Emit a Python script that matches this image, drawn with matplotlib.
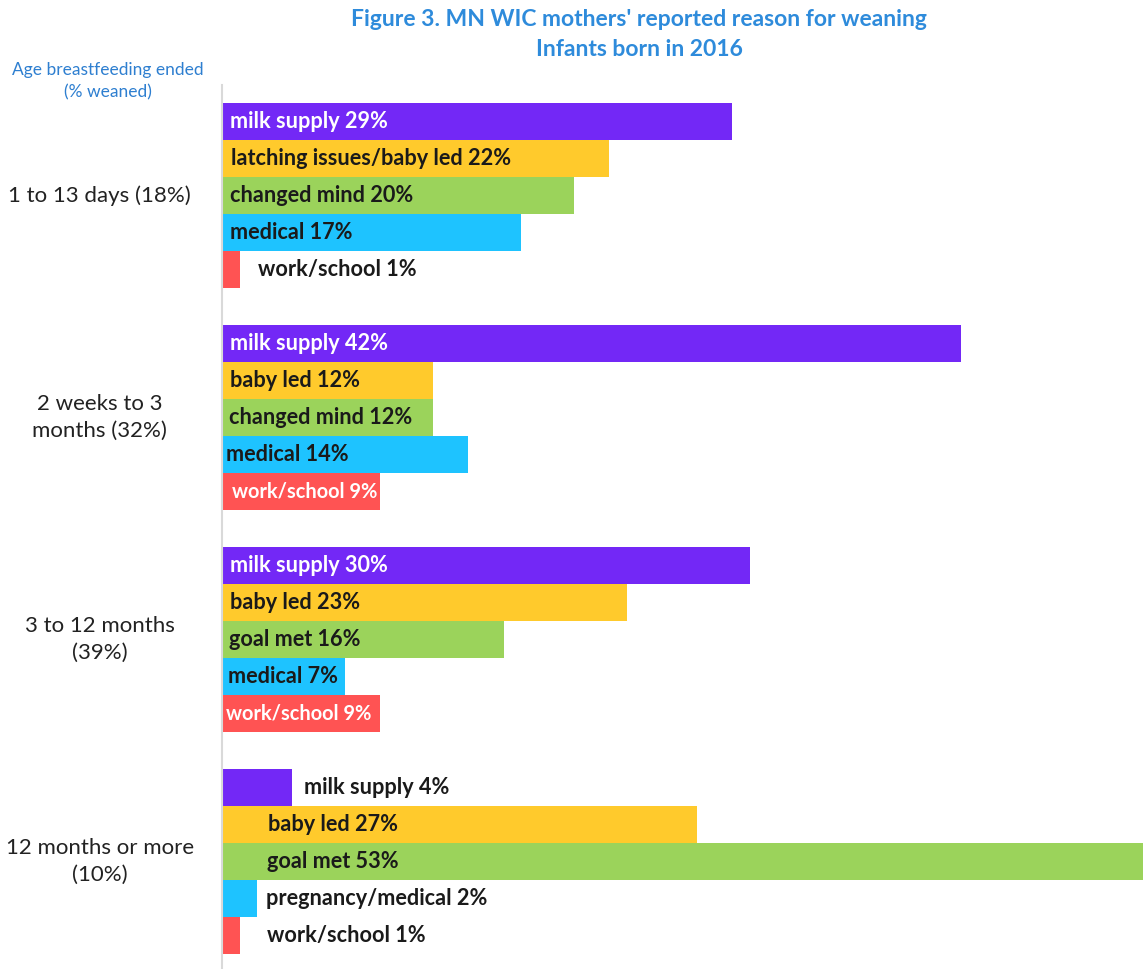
import matplotlib.pyplot as plt

# data
groups = ["1 to 13 days (18%)", "2 weeks to 3\nmonths (32%)",
          "3 to 12 months\n(39%)", "12 months or more\n(10%)"]
reasons = [
    ["milk supply", "latching issues/baby led", "changed mind", "medical", "work/school"],
    ["milk supply", "baby led", "changed mind", "medical", "work/school"],
    ["milk supply", "baby led", "goal met", "medical", "work/school"],
    ["milk supply", "baby led", "goal met", "pregnancy/medical", "work/school"],
]
values = [
    [29, 22, 20, 17, 1],
    [42, 12, 12, 14, 9],
    [30, 23, 16, 7, 9],
    [4, 27, 53, 2, 1],
]

colors = ["#7328F6", "#FFCA2C", "#9BD35B", "#1EC3FF", "#FF5353"]

# where each label text starts (in % units) and its colour
label_x = [
    [0.45, 0.5, 0.45, 0.45, 2.05],
    [0.45, 0.45, 0.4, 0.25, 0.55],
    [0.45, 0.45, 0.4, 0.35, 0.25],
    [4.65, 2.6, 2.55, 2.5, 2.55],
]
white_labels = [(0, 0), (1, 0), (2, 0), (1, 4), (2, 4)]
# the white work/school labels sit inside short bars, a bit smaller
small_labels = [(1, 4), (2, 4)]

W, H = 1143, 969
fig = plt.figure(figsize=(W / 100, H / 100), dpi=100)
plt.rcParams['font.family'] = ['Lato', 'DejaVu Sans']

ax = fig.add_axes([222 / W, 0, 1 - 222 / W, 1 - 85 / H])

for g in range(len(groups)):
    for i in range(len(values[g])):
        y = g * 6 + i
        ax.barh(y, values[g][i], height=1.0, color=colors[i], linewidth=0)
        tc = "white" if (g, i) in white_labels else "#1a1a1a"
        fs = 14.4 if (g, i) in small_labels else 15.6
        ax.text(label_x[g][i], y, f"{reasons[g][i]} {values[g][i]}%",
                va="center", ha="left", fontsize=fs, fontweight="bold", color=tc)
    ax.text(-6.95, g * 6 + 2, groups[g], ha="center", va="center",
            fontsize=16, color="#222222", linespacing=1.45, clip_on=False)

ax.set_xlim(0, (W - 222) / 17.6)
ax.set_ylim(22.9, -0.99)
ax.set_xticks([])
ax.set_yticks([])
for s in ["top", "right", "bottom"]:
    ax.spines[s].set_visible(False)
ax.spines["left"].set_color("#D9D9D9")
ax.spines["left"].set_linewidth(1.5)

title_color = "#2E8BDB"
fig.text(639 / W, 1 - 20 / H, "Figure 3. MN WIC mothers' reported reason for weaning",
         ha="center", va="center", fontsize=16.5, fontweight="bold", color=title_color)
fig.text(639 / W, 1 - 50 / H, "Infants born in 2016",
         ha="center", va="center", fontsize=16.5, fontweight="bold", color=title_color)
fig.text(108 / W, 1 - 81 / H, "Age breastfeeding ended\n(% weaned)",
         ha="center", va="center", fontsize=12.5, color="#2E7FD0", linespacing=1.45)

fig.savefig("out.png", dpi=100)
